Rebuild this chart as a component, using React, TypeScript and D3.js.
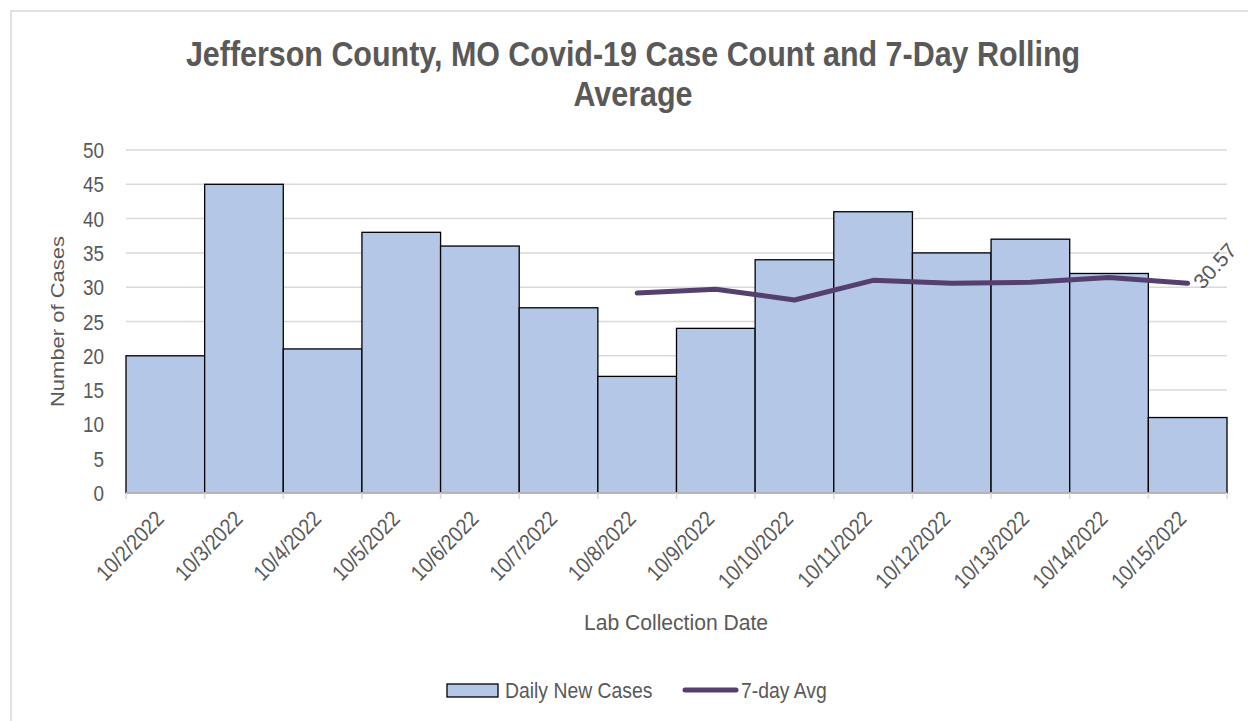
import React from 'react';
import * as d3 from 'd3';

const dates = [
  '10/2/2022', '10/3/2022', '10/4/2022', '10/5/2022', '10/6/2022', '10/7/2022', '10/8/2022',
  '10/9/2022', '10/10/2022', '10/11/2022', '10/12/2022', '10/13/2022', '10/14/2022', '10/15/2022',
];
const dailyCases = [20, 45, 21, 38, 36, 27, 17, 24, 34, 41, 35, 37, 32, 11];
// 7-day avg only shown from 10/8 onward
const avgDates = ['10/8/2022', '10/9/2022', '10/10/2022', '10/11/2022', '10/12/2022', '10/13/2022', '10/14/2022', '10/15/2022'];
const avgValues = [29.14, 29.71, 28.14, 31.0, 30.57, 30.71, 31.43, 30.57];
const yTicks = [0, 5, 10, 15, 20, 25, 30, 35, 40, 45, 50];

const W = 1248;
const H = 721;
const left = 126;
const right = 1227;
const top = 150;
const bottom = 493;
const font = '"Liberation Sans", Arial, sans-serif';
const textColor = '#595959';
const barFill = '#b4c7e7';
const lineColor = '#553f6e';
const gridColor = '#d9d9d9';

// text drawn a bit narrow, like the original's Arial Narrow
function Label(props: {
  x: number; y: number; size: number; sx?: number; rotate?: number; anchor?: string;
  bold?: boolean; children: React.ReactNode;
}) {
  const { x, y, size, sx = 0.86, rotate = 0, anchor = 'start', bold, children } = props;
  return (
    <text transform={`translate(${x},${y}) rotate(${rotate}) scale(${sx},1)`} textAnchor={anchor}
      fontSize={size} fontWeight={bold ? 'bold' : 'normal'} fill={textColor}>
      {children}
    </text>
  );
}

export default function App() {
  const x = d3.scaleBand<string>().domain(dates).range([left, right]).paddingInner(0).paddingOuter(0);
  const y = d3.scaleLinear().domain([0, 50]).range([bottom, top]);
  const cx = (d: string) => (x(d) as number) + x.bandwidth() / 2;

  const line = d3.line<number>()
    .x((_, i) => cx(avgDates[i]))
    .y(d => y(d));

  const lastX = cx(avgDates[avgDates.length - 1]);
  const lastY = y(avgValues[avgValues.length - 1]);

  return (
    <svg width={W} height={H} style={{ position: 'fixed', left: 0, top: 0, background: '#fff' }} fontFamily={font}>
      <rect x={11} y={11} width={W} height={H} fill="#fff" stroke={gridColor} strokeWidth={1.5} />

      <Label x={633} y={66} size={35} sx={0.87} anchor="middle" bold>
        Jefferson County, MO Covid-19 Case Count and 7-Day Rolling
      </Label>
      <Label x={633} y={106} size={35} sx={0.87} anchor="middle" bold>Average</Label>

      {/* gridlines */}
      {yTicks.filter(t => t > 0).map(t => (
        <line key={t} x1={left} x2={right} y1={y(t)} y2={y(t)} stroke={gridColor} strokeWidth={1.5} />
      ))}
      {yTicks.map(t => (
        <Label key={'yt' + t} x={104} y={y(t) + 8} size={22} anchor="end">{t}</Label>
      ))}

      {/* bars */}
      {dailyCases.map((v, i) => (
        <rect key={dates[i]} x={x(dates[i])} y={y(v)} width={x.bandwidth()} height={bottom - y(v)}
          fill={barFill} stroke="#000" strokeWidth={1.3} />
      ))}

      {/* x axis */}
      <line x1={left} x2={right} y1={bottom} y2={bottom} stroke={gridColor} strokeWidth={1.5} />
      {d3.range(dates.length + 1).map(i => {
        const tx = left + i * x.bandwidth();
        return <line key={'tk' + i} x1={tx} x2={tx} y1={bottom} y2={bottom + 6} stroke={gridColor} strokeWidth={1.5} />;
      })}
      {dates.map(d => (
        <Label key={'xl' + d} x={cx(d)} y={bottom + 27} size={22} sx={0.88} rotate={-46} anchor="end">{d}</Label>
      ))}

      {/* 7-day avg */}
      <path d={line(avgValues) as string} fill="none" stroke={lineColor} strokeWidth={5} strokeLinecap="round" strokeLinejoin="round" />
      <Label x={lastX + 15} y={lastY + 7} size={21} sx={1} rotate={-48}>
        {avgValues[avgValues.length - 1].toFixed(2)}
      </Label>

      {/* axis titles */}
      <text transform={`translate(64,${(top + bottom) / 2}) rotate(-90) scale(1,0.82)`} textAnchor="middle"
        fontSize={22} fill={textColor}>
        Number of Cases
      </text>
      <Label x={676} y={630} size={22} sx={0.96} anchor="middle">Lab Collection Date</Label>

      {/* legend */}
      <rect x={447} y={684} width={51} height={13} fill={barFill} stroke="#000" strokeWidth={1.3} />
      <Label x={505} y={698} size={22} sx={0.88}>Daily New Cases</Label>
      <line x1={685} x2={736} y1={690} y2={690} stroke={lineColor} strokeWidth={5} strokeLinecap="round" />
      <Label x={741} y={698} size={22} sx={0.88}>7-day Avg</Label>
    </svg>
  );
}
